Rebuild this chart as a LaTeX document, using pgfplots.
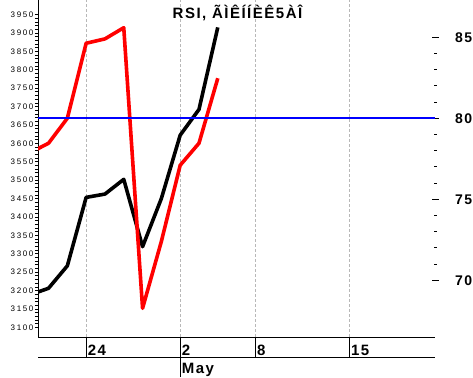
\documentclass[border=0pt]{standalone}
\usepackage{pgfplots}
\pgfplotsset{compat=1.18}
\usepackage{fontspec}
\setmainfont{Liberation Sans}
\newfontfamily\ticksfont[LetterSpace=20]{Liberation Sans}
\newfontfamily\bigfont[LetterSpace=10]{Liberation Sans}
\begin{document}
\begin{tikzpicture}
\useasboundingbox (0,0) rectangle (473pt,377pt);
\begin{axis}[
  at={(38pt,40pt)}, anchor=south west, scale only axis,
  width=397pt, height=337pt,
  xmin=-0.56, xmax=20.55, ymin=3073.6, ymax=3989.4,
  clip mode=individual,
  axis x line*=bottom, axis y line*=left,
  axis line style={line width=0.8pt, -},
  xtick={2,7,11,16}, xticklabels={24,2,8,15},
  xmajorgrids, grid style={dash pattern=on 3pt off 2pt, color=black!28, line width=0.7pt},
  x tick style={draw=none},
  xticklabel style={anchor=west, inner sep=0pt, yshift=-10.3pt, xshift=1.5pt,
    font=\bigfont\bfseries\fontsize{15}{15}\selectfont},
  ytick={3100,3150,...,3950}, minor y tick num=4,
  y tick style={line width=0.6pt, black},
  tick align=outside, major tick length=3pt, minor tick length=3pt,
  yticklabel style={font=\ticksfont\fontsize{8}{8}\selectfont, inner sep=0pt, xshift=-1.5pt},
  /pgf/number format/assume math mode=true, /pgf/number format/1000 sep={},
]
\addplot[black, line width=3.6pt, line join=round] coordinates {
 (-1,3188) (0,3206) (1,3267) (2,3453) (3,3462) (4,3502) (5,3319) (6,3450) (7,3622) (8,3692) (9,3915)
};
\draw[line width=0.8pt] ([yshift=-20pt]axis cs:-0.56,3073.6) -- ([yshift=-20pt]axis cs:20.55,3073.6);
\draw[line width=0.8pt] (axis cs:2,3073.6) -- ([yshift=-20pt]axis cs:2,3073.6);
\draw[line width=0.8pt] (axis cs:7,3073.6) -- ([yshift=-40pt]axis cs:7,3073.6);
\draw[line width=0.8pt] (axis cs:11,3073.6) -- ([yshift=-20pt]axis cs:11,3073.6);
\draw[line width=0.8pt] (axis cs:16,3073.6) -- ([yshift=-20pt]axis cs:16,3073.6);
\node[anchor=base west, inner sep=0pt, font=\bigfont\bfseries\fontsize{15}{15}\selectfont]
  at ([yshift=-36.3pt, xshift=1.5pt]axis cs:7,3073.6) {May};
\end{axis}
\begin{axis}[
  at={(38pt,40pt)}, anchor=south west, scale only axis,
  width=397pt, height=337pt,
  xmin=-0.56, xmax=20.55, ymin=66.5, ymax=87.3,
  axis x line=none, axis y line*=right,
  y axis line style={draw=none},
  ytick={70,75,80,85}, minor y tick num=4,
  y tick style={line width=0.8pt, black},
  tick align=center, major tick length=7pt, minor tick length=3pt,
  yticklabel style={font=\bigfont\bfseries\fontsize{14}{14}\selectfont, inner sep=0pt, xshift=16.5pt},
  /pgf/number format/assume math mode=true,
]
\addplot[red, line width=3.6pt, line join=round] coordinates {
 (-1,77.86) (0,78.46) (1,80.0) (2,84.63) (3,84.9) (4,85.59) (5,68.27) (6,72.4) (7,77.1) (8,78.46) (9,82.47)
};
\addplot[blue, line width=1.8pt] coordinates {(-0.56,80) (20.55,80)};
\end{axis}
\node[anchor=base, inner sep=0pt, font=\bigfont\bfseries\fontsize{15}{15}\selectfont] at (237.5pt,358.5pt) {RSI, ÃÌÊÍÍÈÊ5ÀÎ};
\end{tikzpicture}
\end{document}
